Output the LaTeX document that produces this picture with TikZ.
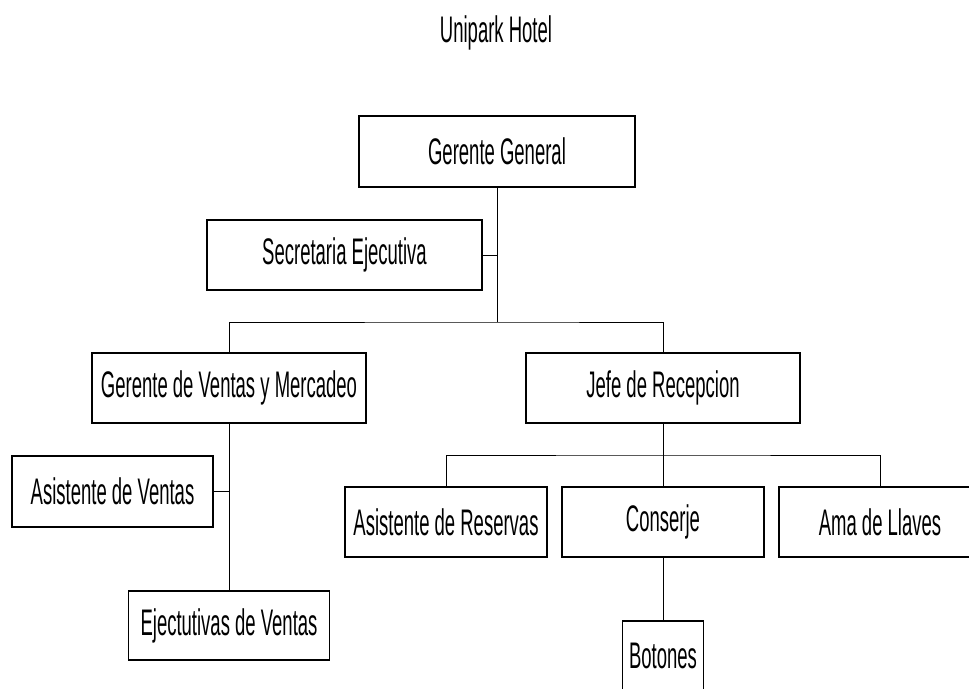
\documentclass[tikz,border=0pt]{standalone}
\usepackage{fontspec}
\setmainfont{Liberation Sans}[FakeStretch=0.5]
\begin{document}
\begin{tikzpicture}[x=1pt,y=-1pt,
  every node/.style={font=\fontsize{37}{40}\selectfont, inner sep=0pt},
  unit/.style={draw, line width=1.6pt, minimum height=70pt, fill=white},
  wide/.style={unit, minimum width=274pt},
  mid/.style={unit, minimum width=202pt},
  link/.style={line width=1pt}]
\useasboundingbox (0,0) rectangle (969,688);

% title
\node (title) at (496,33) {Unipark Hotel};

% boxes
\node[wide, minimum height=71pt, minimum width=276pt] (gg) at (497,151.5) {Gerente General};
\node[wide, minimum width=275pt] (sec) at (344.5,255) {Secretaria Ejecutiva};
\node[wide] (gv) at (229,388) {Gerente de Ventas y Mercadeo};
\node[wide] (jefe) at (663,388) {Jefe de Recepcion};
\node[mid, minimum width=201pt, minimum height=71pt] (av) at (112.5,491.5) {Asistente de Ventas};
\node[mid] (ar) at (446,522) {Asistente de Reservas};
\node[mid] (cons) at (663,522) {Conserje};
\node[mid] (ama) at (880,522) {Ama de Llaves};
\node[mid, minimum width=201pt, minimum height=69pt] (ejv) at (229,625.5) {Ejectutivas de Ventas};
\node[unit, minimum width=81pt] (bot) at (663,656) {Botones};

% branch points
\coordinate (b1) at (497,322);
\coordinate (b2) at (663,455);

% connectors
\draw[link] (gg.south) -- (b1);
\draw[link] (sec.east) -- (sec.east -| gg.south);
\draw[link] (gv.north) |- (b1) -| (jefe.north);
\draw[link] (gv.south) -- (ejv.north);
\draw[link] (av.east) -- (av.east -| gv.south);
\draw[link] (jefe.south) -- (b2);
\draw[link] (ar.north) |- (b2) -| (ama.north);
\draw[link] (b2) -- (cons.north);
\draw[link] (cons.south) -- (bot.north);
\end{tikzpicture}
\end{document}
